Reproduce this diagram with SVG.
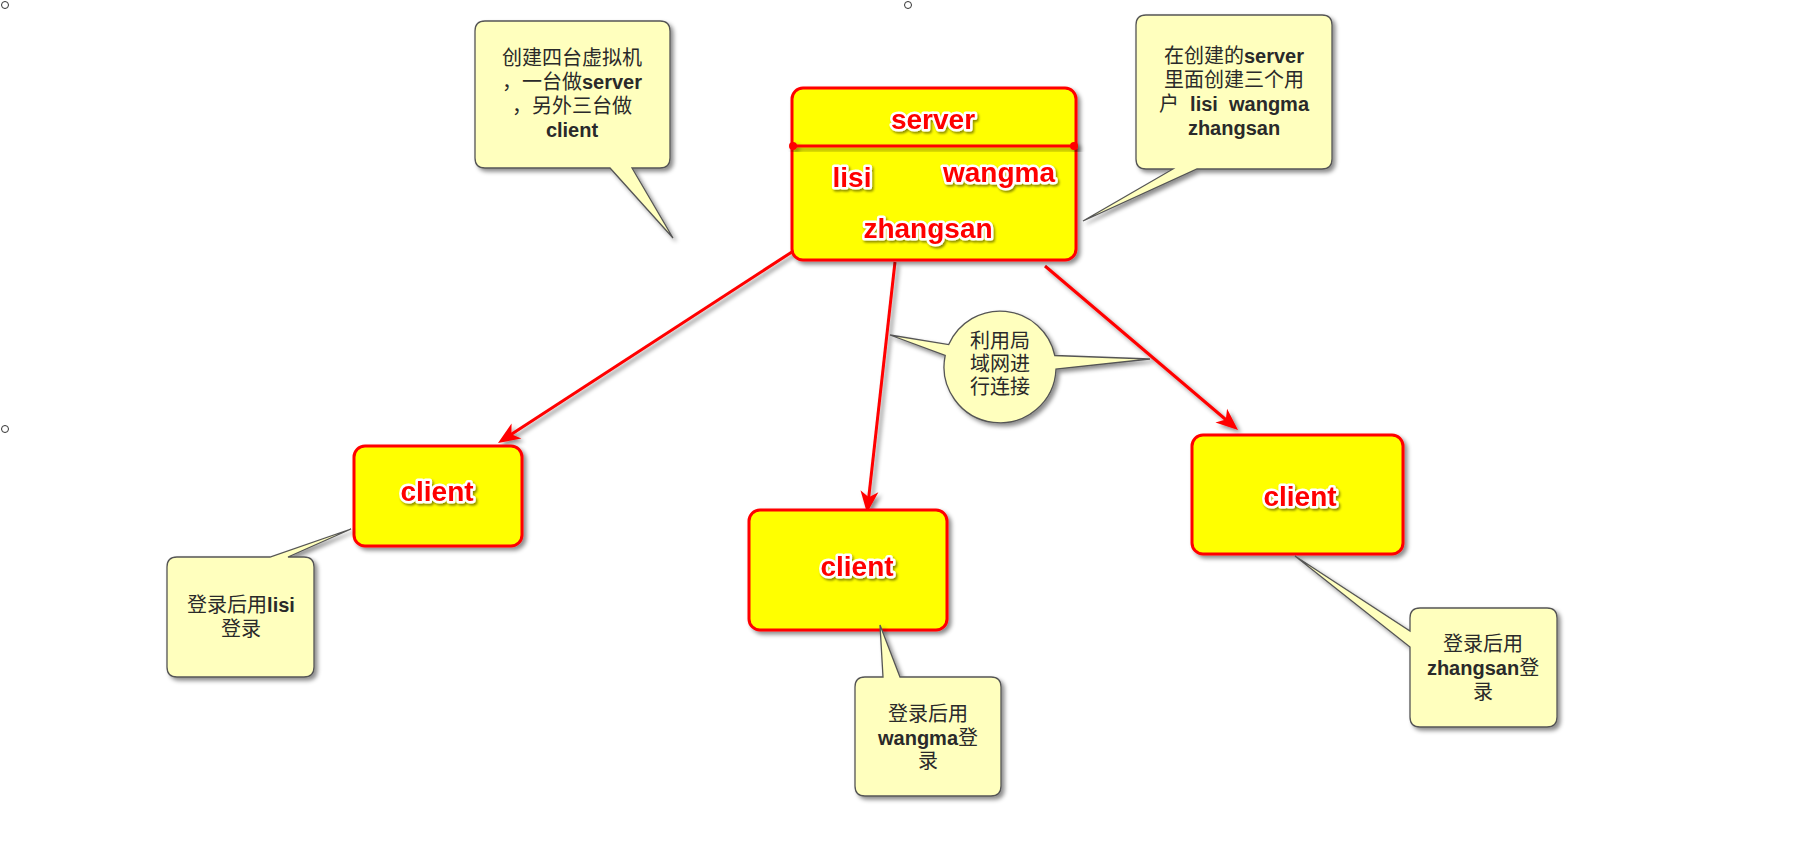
<svg xmlns="http://www.w3.org/2000/svg" width="1819" height="860" viewBox="0 0 1819 860">
<defs>
  <filter id="sh" x="-10%" y="-10%" width="130%" height="130%">
    <feDropShadow dx="3" dy="3" stdDeviation="2" flood-color="#000" flood-opacity="0.45"/>
  </filter>
  <filter id="tsh" x="-10%" y="-20%" width="130%" height="150%">
    <feDropShadow dx="1.5" dy="2" stdDeviation="1.2" flood-color="#000" flood-opacity="0.45"/>
  </filter>
  <marker id="arr" markerUnits="userSpaceOnUse" viewBox="-14 -10 26 20" refX="0" refY="0" markerWidth="26" markerHeight="20" orient="auto">
    <path d="M10,0 L-12,-9 L-6,0 L-12,9 Z" fill="#FF0000"/>
  </marker>
  <style>
    .node { fill: #FFFF00; stroke: #FF0000; stroke-width: 3; }
    .ntxt { font-family: "Liberation Sans", Arial, sans-serif; font-weight: bold; font-size: 28px; fill: #FF0000; stroke: #FFFFFF; stroke-width: 5; stroke-linejoin: round; paint-order: stroke; text-anchor: middle; }
    .call { fill: #FFFFBE; stroke: #555555; stroke-width: 1.3; stroke-linejoin: miter; }
    .ctxt { font-family: "Liberation Sans", "Noto Sans CJK SC", sans-serif; font-size: 20px; fill: #2a2a2a; text-anchor: middle; }
    .b { font-weight: bold; }
    .conn { fill: none; stroke: #FF0000; stroke-width: 3; }
    .handle { fill: #FFFFFF; stroke: #333333; stroke-width: 1; }
  </style>
</defs>
<rect x="0" y="0" width="1819" height="860" fill="#FFFFFF"/>

<g id="handles">
  <circle class="handle" cx="5" cy="5" r="3.5"/>
  <circle class="handle" cx="908" cy="5" r="3.5"/>
  <circle class="handle" cx="5" cy="429" r="3.5"/>
</g>

<g id="connectors" filter="url(#sh)">
  <line class="conn" x1="798" y1="248" x2="506.4" y2="437.5" marker-end="url(#arr)"/>
  <line class="conn" x1="895" y1="262" x2="868.1" y2="503.1" marker-end="url(#arr)"/>
  <line class="conn" x1="1045" y1="266" x2="1230.4" y2="423.5" marker-end="url(#arr)"/>
</g>

<g id="server">
  <rect class="node" x="792" y="88" width="284" height="172" rx="11" filter="url(#sh)"/>
  <g filter="url(#sh)">
    <line x1="793" y1="146" x2="1074" y2="146" stroke="#FF0000" stroke-width="3"/>
    <circle cx="793" cy="146" r="4" fill="#FF0000"/>
    <circle cx="1074" cy="146" r="4" fill="#FF0000"/>
  </g>
  <g filter="url(#tsh)">
    <text class="ntxt" x="933" y="129">server</text>
    <text class="ntxt" x="852" y="187">lisi</text>
    <text class="ntxt" x="999" y="182">wangma</text>
    <text class="ntxt" x="928" y="238">zhangsan</text>
  </g>
</g>

<g id="client1">
  <rect class="node" x="354" y="446" width="168" height="100" rx="11" filter="url(#sh)"/>
  <text class="ntxt" x="437" y="501" filter="url(#tsh)">client</text>
</g>

<g id="client2">
  <rect class="node" x="749" y="510" width="198" height="120" rx="11" filter="url(#sh)"/>
  <text class="ntxt" x="857" y="576" filter="url(#tsh)">client</text>
</g>

<g id="client3">
  <rect class="node" x="1192" y="435" width="211" height="119" rx="11" filter="url(#sh)"/>
  <text class="ntxt" x="1300" y="506" filter="url(#tsh)">client</text>
</g>

<g id="note-create">
  <path class="call" filter="url(#sh)" d="M485,21 H660 Q670,21 670,31 V158 Q670,168 660,168 H632 L673,238 L610,168 H485 Q475,168 475,158 V31 Q475,21 485,21 Z"/>
  <text class="ctxt" x="572" y="65">创建四台虚拟机</text>
  <text class="ctxt" x="572" y="89">，一台做<tspan class="b">server</tspan></text>
  <text class="ctxt" x="572" y="113">，另外三台做</text>
  <text class="ctxt b" x="572" y="137">client</text>
</g>

<g id="note-users">
  <path class="call" filter="url(#sh)" d="M1146,15 H1322 Q1332,15 1332,25 V159 Q1332,169 1322,169 H1197 L1083,221 L1173,169 H1146 Q1136,169 1136,159 V25 Q1136,15 1146,15 Z"/>
  <text class="ctxt" x="1234" y="63">在创建的<tspan class="b">server</tspan></text>
  <text class="ctxt" x="1234" y="87">里面创建三个用</text>
  <text class="ctxt" x="1234" y="111" xml:space="preserve">户  <tspan class="b">lisi</tspan>  <tspan class="b">wangma</tspan></text>
  <text class="ctxt b" x="1234" y="135">zhangsan</text>
</g>

<g id="note-lan">
  <path class="call" filter="url(#sh)" d="M948.7,344.6 A56,56 0 0 1 1054.8,355.5 L1150,359 L1056,369 A56,56 0 1 1 945.2,355.5 L890,335 Z"/>
  <text class="ctxt" x="1000" y="348">利用局</text>
  <text class="ctxt" x="1000" y="371">域网进</text>
  <text class="ctxt" x="1000" y="394">行连接</text>
</g>

<g id="note-lisi">
  <path class="call" filter="url(#sh)" d="M177,557 H270 L351,529 L288,557 H304 Q314,557 314,567 V667 Q314,677 304,677 H177 Q167,677 167,667 V567 Q167,557 177,557 Z"/>
  <text class="ctxt" x="241" y="612">登录后用<tspan class="b">lisi</tspan></text>
  <text class="ctxt" x="241" y="636">登录</text>
</g>

<g id="note-wangma">
  <path class="call" filter="url(#sh)" d="M865,677 H883 L880,625 L900,677 H991 Q1001,677 1001,687 V786 Q1001,796 991,796 H865 Q855,796 855,786 V687 Q855,677 865,677 Z"/>
  <text class="ctxt" x="928" y="721">登录后用</text>
  <text class="ctxt" x="928" y="745"><tspan class="b">wangma</tspan>登</text>
  <text class="ctxt" x="928" y="768">录</text>
</g>

<g id="note-zhangsan">
  <path class="call" filter="url(#sh)" d="M1420,608 H1547 Q1557,608 1557,618 V717 Q1557,727 1547,727 H1420 Q1410,727 1410,717 V647 L1295,556 L1410,631 V618 Q1410,608 1420,608 Z"/>
  <text class="ctxt" x="1483" y="651">登录后用</text>
  <text class="ctxt" x="1483" y="675"><tspan class="b">zhangsan</tspan>登</text>
  <text class="ctxt" x="1483" y="699">录</text>
</g>
</svg>
